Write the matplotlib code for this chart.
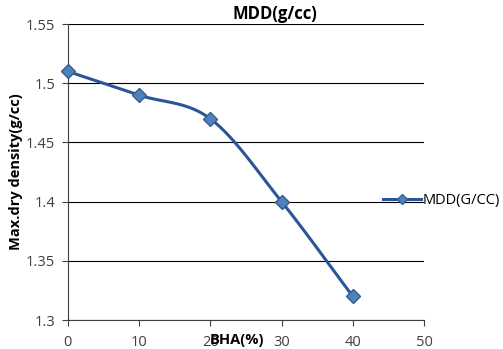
import numpy as np
import matplotlib
matplotlib.use("Agg")
import matplotlib.pyplot as plt
from matplotlib.lines import Line2D

# Data
bha = [0, 10, 20, 30, 40]
mdd = [1.51, 1.49, 1.47, 1.40, 1.32]
xticks = [0, 10, 20, 30, 40, 50]
yticks = [1.3, 1.35, 1.4, 1.45, 1.5, 1.55]

plt.rcParams["font.family"] = ["Open Sans", "DejaVu Sans"]


def smooth(x, y, n=30):
    # Catmull-Rom style smoothing, like Excel's smoothed line
    x = np.asarray(x, float)
    y = np.asarray(y, float)
    px = np.concatenate([[2 * x[0] - x[1]], x, [2 * x[-1] - x[-2]]])
    py = np.concatenate([[2 * y[0] - y[1]], y, [2 * y[-1] - y[-2]]])
    xs, ys = [], []
    for i in range(1, len(px) - 2):
        t = np.linspace(0, 1, n)
        b0 = (-t**3 + 2 * t**2 - t) / 2
        b1 = (3 * t**3 - 5 * t**2 + 2) / 2
        b2 = (-3 * t**3 + 4 * t**2 + t) / 2
        b3 = (t**3 - t**2) / 2
        xs.append(b0 * px[i-1] + b1 * px[i] + b2 * px[i+1] + b3 * px[i+2])
        ys.append(b0 * py[i-1] + b1 * py[i] + b2 * py[i+1] + b3 * py[i+2])
    return np.concatenate(xs), np.concatenate(ys)


fig = plt.figure(figsize=(5.03, 3.49), dpi=100)
ax = fig.add_axes([0.135, 0.083, 0.708, 0.848])

sx, sy = smooth(bha, mdd)
ax.plot(sx, sy, color="#2A5597", linewidth=2.2, zorder=3, clip_on=False)
ax.plot(bha, mdd, linestyle="none", marker="D", markersize=7,
        markerfacecolor="#4F81BD", markeredgecolor="#385D8A",
        markeredgewidth=1, zorder=4, clip_on=False)

ax.set_xlim(0, 50)
ax.set_ylim(1.3, 1.55)
ax.set_xticks(xticks)
ax.set_yticks(yticks)
ax.set_yticklabels([f"{v:g}" for v in yticks])
ax.tick_params(axis="both", labelsize=10.5, labelcolor="#404040",
               color="#404040", length=4, direction="out")
ax.tick_params(axis="x", pad=7)
ax.tick_params(axis="y", pad=5)
ax.grid(axis="y", color="#000000", linewidth=0.8)
ax.set_axisbelow(True)
for s in ["top", "right"]:
    ax.spines[s].set_visible(False)
ax.spines["left"].set_color("#404040")
ax.spines["bottom"].set_color("#404040")

ax.set_title("MDD(g/cc)", fontsize=12, fontweight="bold", x=0.58, y=0.99)
ax.set_xlabel("BHA(%)", fontsize=10.5, fontweight="bold", va="center")
ax.xaxis.set_label_coords(0.475, -0.068)
ax.set_ylabel("Max.dry density(g/cc)", fontsize=10.5, fontweight="bold",
              labelpad=2)

# legend on the right
h = Line2D([0], [0], color="#2A5597", linewidth=2.2, marker="D",
           markersize=5, markerfacecolor="#4F81BD", markeredgecolor="#385D8A")
fig.legend([h], ["MDD(G/CC)"], loc="center left",
           bbox_to_anchor=(0.75, 0.425), frameon=False, fontsize=10.5,
           handlelength=2.6, handletextpad=0.1, borderaxespad=0)

fig.savefig("out.png", dpi=100)
